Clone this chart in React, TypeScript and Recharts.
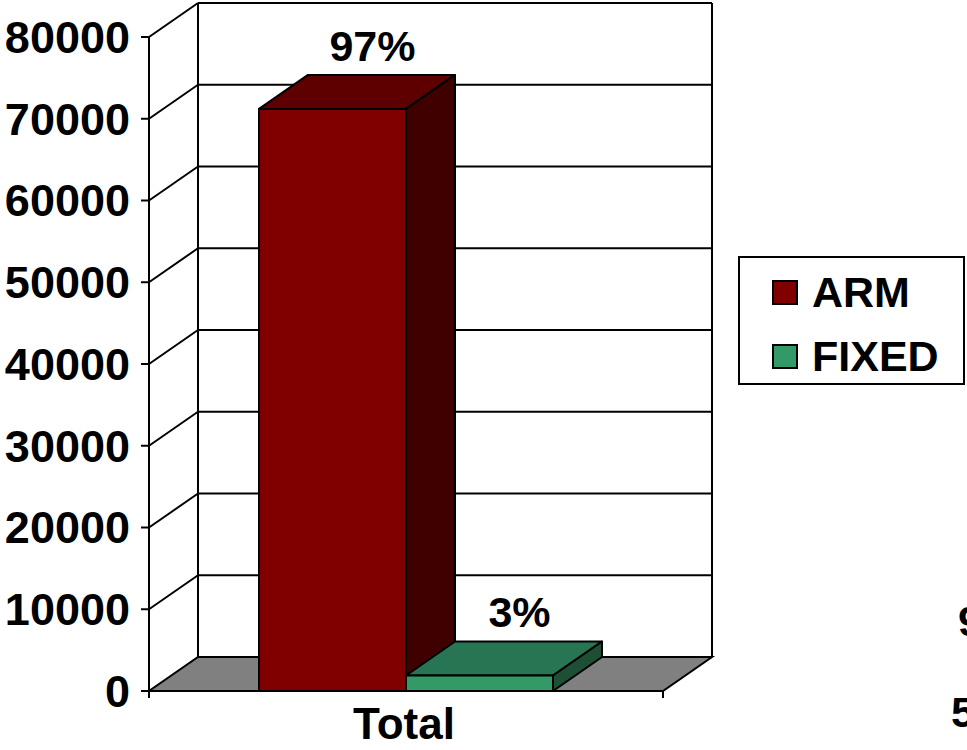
import React from "react";
import {
  Bar,
  BarChart,
  CartesianGrid,
  LabelList,
  Legend,
  XAxis,
  YAxis,
} from "recharts";

const categories = ["Total"];
const armValues = [71200];
const fixedValues = [1900];
const armShare = ["97%"];
const fixedShare = ["3%"];
const yTicks = [0, 10000, 20000, 30000, 40000, 50000, 60000, 70000, 80000];
const seriesNames = ["ARM", "FIXED"];
const strayLabels = ["9", "5"];

const data = categories.map((name, i) => ({
  name,
  ARM: armValues[i],
  FIXED: fixedValues[i],
}));

const FONT = "'Liberation Sans', Arial, Helvetica, sans-serif";
const FONT_SIZE = 43;
// 3D depth offset of the back wall
const DX = 49;
const DY = 34;

const WIDTH = 967;
const HEIGHT = 750;
const MARGIN = { top: 37, right: 304, bottom: 0, left: 0 };
const Y_AXIS_W = 149;
const X_AXIS_H = 59;
const PLOT_TOP = MARGIN.top;
const PLOT_BOTTOM = HEIGHT - MARGIN.bottom - X_AXIS_H;

const colors = {
  ARM: { front: "#800000", top: "#5e0000", side: "#3f0000" },
  FIXED: { front: "#339966", top: "#277552", side: "#1d4f35" },
};

const renderGridLine = (props: any) => {
  const { x1, y1, x2 } = props;
  const top = typeof props.y === "number" ? props.y : PLOT_TOP;
  const bottom =
    typeof props.height === "number" ? props.y + props.height : PLOT_BOTTOM;
  const isFloor = Math.abs(y1 - bottom) < 1;
  const isTop = Math.abs(y1 - top) < 1;
  const s = { stroke: "#000", strokeWidth: 2 };
  return (
    <g key={`grid-${props.index}`}>
      {isFloor ? (
        <>
          <polygon
            points={`${x1},${y1} ${x2},${y1} ${x2 + DX},${y1 - DY} ${x1 + DX},${y1 - DY}`}
            fill="#808080"
            {...s}
            strokeLinejoin="miter"
          />
          <line x1={x1} y1={y1} x2={x1} y2={y1 + 7} {...s} />
          <line x1={x2} y1={y1} x2={x2} y2={y1 + 7} {...s} />
        </>
      ) : (
        <>
          <line x1={x1} y1={y1} x2={x1 + DX} y2={y1 - DY} {...s} />
          <line x1={x1 + DX} y1={y1 - DY} x2={x2 + DX} y2={y1 - DY} {...s} />
        </>
      )}
      {isTop && (
        <>
          <line x1={x1 + DX} y1={y1 - DY} x2={x1 + DX} y2={bottom - DY} {...s} />
          <line x1={x2 + DX} y1={y1 - DY} x2={x2 + DX} y2={bottom - DY} {...s} />
        </>
      )}
    </g>
  );
};

const bar3D = (c: { front: string; top: string; side: string }) => (props: any) => {
  const { x, y, width: w, height: h } = props;
  if (w == null || h == null) return <g />;
  const s = { stroke: "#000", strokeWidth: 2, strokeLinejoin: "round" as const };
  return (
    <g>
      <polygon
        points={`${x},${y} ${x + DX},${y - DY} ${x + w + DX},${y - DY} ${x + w},${y}`}
        fill={c.top}
        {...s}
      />
      <polygon
        points={`${x + w},${y} ${x + w + DX},${y - DY} ${x + w + DX},${y + h - DY} ${x + w},${y + h}`}
        fill={c.side}
        {...s}
      />
      <rect x={x} y={y} width={w} height={h} fill={c.front} {...s} />
    </g>
  );
};

const shareLabel = (labels: string[]) => (props: any) => {
  const { x, y, width, index } = props;
  return (
    <text
      x={x + width / 2 + 40}
      y={y - 63}
      textAnchor="middle"
      dominantBaseline="central"
      fontFamily={FONT}
      fontSize={FONT_SIZE}
      fontWeight={700}
      fill="#000"
    >
      {labels[index]}
    </text>
  );
};

const CategoryTick = (props: any) => {
  const { x, y, payload } = props;
  return (
    <text
      x={x - 2}
      y={y + 40}
      textAnchor="middle"
      fontFamily={FONT}
      fontSize={FONT_SIZE + 1}
      fontWeight={700}
      fill="#000"
    >
      {payload.value}
    </text>
  );
};

const renderLegend = () => (
  <div
    style={{
      boxSizing: "border-box",
      width: 227,
      height: 129,
      border: "2px solid #000",
      background: "#fff",
      position: "relative",
      fontFamily: FONT,
      fontSize: FONT_SIZE,
      fontWeight: 700,
      color: "#000",
    }}
  >
    {seriesNames.map((name, i) => (
      <div
        key={name}
        style={{
          position: "absolute",
          left: 32,
          top: 34 + i * 64 - 25,
          height: 50,
          display: "flex",
          alignItems: "center",
          whiteSpace: "nowrap",
        }}
      >
        <span
          style={{
            display: "inline-block",
            boxSizing: "border-box",
            width: 26,
            height: 25,
            border: "2px solid #000",
            background: colors[name as "ARM" | "FIXED"].front,
            marginRight: 14,
          }}
        />
        <span style={{ lineHeight: "50px" }}>{name}</span>
      </div>
    ))}
  </div>
);

export default function App() {
  return (
    <div
      style={{
        position: "absolute",
        left: 0,
        top: 0,
        width: WIDTH,
        height: HEIGHT,
        background: "#fff",
        overflow: "hidden",
      }}
    >
      <BarChart
        width={WIDTH}
        height={HEIGHT}
        data={data}
        margin={MARGIN}
        barSize={147}
        barGap={0}
      >
        <CartesianGrid
          vertical={false}
          horizontal={renderGridLine}
          fill="none"
        />
        <XAxis
          dataKey="name"
          height={X_AXIS_H}
          tickLine={false}
          axisLine={{ stroke: "#000", strokeWidth: 2 }}
          tick={<CategoryTick />}
        />
        <YAxis
          width={Y_AXIS_W}
          domain={[0, 80000]}
          ticks={yTicks}
          interval={0}
          tickSize={8}
          tickMargin={11}
          axisLine={{ stroke: "#000", strokeWidth: 2 }}
          tickLine={{ stroke: "#000", strokeWidth: 2 }}
          tick={{
            fill: "#000",
            fontSize: 45,
            fontWeight: 700,
            fontFamily: FONT,
          }}
        />
        <Legend
          layout="vertical"
          align="center"
          verticalAlign="middle"
          content={renderLegend}
          wrapperStyle={{ left: 738, top: 256, width: 227, height: 129 }}
        />
        <Bar
          dataKey="ARM"
          shape={bar3D(colors.ARM)}
          isAnimationActive={false}
        >
          <LabelList dataKey="ARM" content={shareLabel(armShare)} />
        </Bar>
        <Bar
          dataKey="FIXED"
          shape={bar3D(colors.FIXED)}
          isAnimationActive={false}
        >
          <LabelList dataKey="FIXED" content={shareLabel(fixedShare)} />
        </Bar>
      </BarChart>
      <svg
        width={WIDTH}
        height={HEIGHT}
        style={{ position: "absolute", left: 0, top: 0, pointerEvents: "none" }}
      >
        <text
          x={958}
          y={636}
          fontFamily={FONT}
          fontSize={FONT_SIZE}
          fontWeight={700}
          fill="#000"
        >
          {strayLabels[0]}
        </text>
        <text
          x={951}
          y={727}
          fontFamily={FONT}
          fontSize={FONT_SIZE}
          fontWeight={700}
          fill="#000"
        >
          {strayLabels[1]}
        </text>
      </svg>
    </div>
  );
}
